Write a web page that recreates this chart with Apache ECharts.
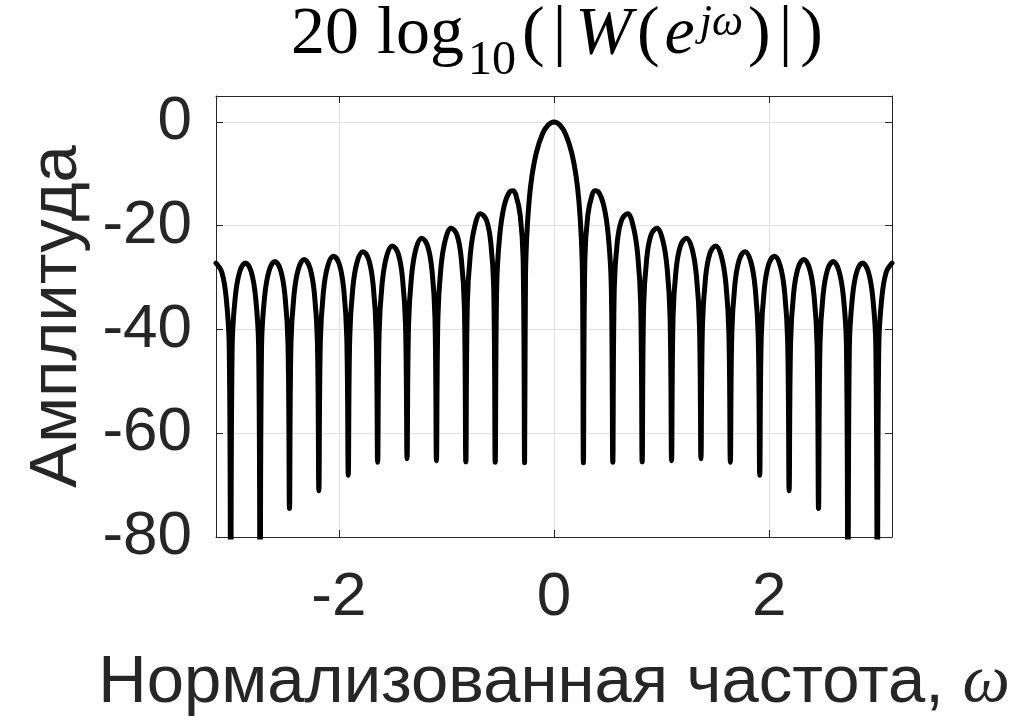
<!DOCTYPE html>
<html>
<head>
<meta charset="utf-8">
<script src="https://cdn.jsdelivr.net/npm/echarts@6/dist/echarts.min.js"></script>
<style>
html,body{margin:0;padding:0;background:#fff;}
#chart{width:1027px;height:724px;}
</style>
</head>
<body>
<div id="chart"></div>
<script>
// Frequency samples (rad/sample), grouped per lobe
const omega = [
  -3.1416, -3.0870, -3.0460, -3.0187, -3.0050,
  -2.9913, -2.9640, -2.9230, -2.8684, -2.8138, -2.7728, -2.7455, -2.7318,
  -2.7181, -2.6908, -2.6498, -2.5952, -2.5406, -2.4996, -2.4723, -2.4586,
  -2.4450, -2.4177, -2.3767, -2.3221, -2.2675, -2.2265, -2.1992, -2.1855,
  -2.1718, -2.1445, -2.1035, -2.0489, -1.9943, -1.9533, -1.9260, -1.9123,
  -1.8986, -1.8713, -1.8303, -1.7757, -1.7211, -1.6801, -1.6528, -1.6391,
  -1.6254, -1.5981, -1.5571, -1.5025, -1.4479, -1.4069, -1.3796, -1.3659,
  -1.3522, -1.3249, -1.2839, -1.2293, -1.1747, -1.1337, -1.1064, -1.0927,
  -1.0790, -1.0517, -1.0107, -0.9561, -0.9015, -0.8605, -0.8332, -0.8195,
  -0.8059, -0.7786, -0.7376, -0.6830, -0.6284, -0.5874, -0.5601, -0.5464,
  -0.5327, -0.5054, -0.4644, -0.4098, -0.3825, -0.3552, -0.3142, -0.2869, -0.2732,
  -0.2650, -0.2541, -0.2322, -0.2049, -0.1639, -0.1093, -0.0546, 0,
   0.0546, 0.1093, 0.1639, 0.2049, 0.2322, 0.2541, 0.2650, 0.2732,
   0.2869, 0.3142, 0.3552, 0.3825, 0.4098, 0.4644, 0.5054, 0.5327, 0.5464,
   0.5601, 0.5874, 0.6284, 0.6830, 0.7376, 0.7786, 0.8059, 0.8195,
   0.8332, 0.8605, 0.9015, 0.9561, 1.0107, 1.0517, 1.0790, 1.0927,
   1.1064, 1.1337, 1.1747, 1.2293, 1.2839, 1.3249, 1.3522, 1.3659,
   1.3796, 1.4069, 1.4479, 1.5025, 1.5571, 1.5981, 1.6254, 1.6391,
   1.6528, 1.6801, 1.7211, 1.7757, 1.8303, 1.8713, 1.8986, 1.9123,
   1.9260, 1.9533, 1.9943, 2.0489, 2.1035, 2.1445, 2.1718, 2.1855,
   2.1992, 2.2265, 2.2675, 2.3221, 2.3767, 2.4177, 2.4450, 2.4586,
   2.4723, 2.4996, 2.5406, 2.5952, 2.6498, 2.6908, 2.7181, 2.7318,
   2.7455, 2.7728, 2.8138, 2.8684, 2.9230, 2.9640, 2.9913, 3.0050,
   3.0187, 3.0460, 3.0870, 3.1416
];
// Amplitude in dB at those samples
const ampDb = [
  -27.2, -29.0, -34.1, -43.3, -95,
  -43.3, -34.1, -29.0, -27.2, -28.9, -34.0, -43.2, -95,
  -43.2, -33.9, -28.8, -26.9, -28.6, -33.7, -42.8, -74.5,
  -42.8, -33.6, -28.4, -26.5, -28.2, -33.2, -42.3, -71.1,
  -42.3, -33.0, -27.8, -25.9, -27.5, -32.5, -41.6, -68.1,
  -41.6, -32.3, -27.0, -25.0, -26.6, -31.6, -40.7, -65.6,
  -40.6, -31.3, -26.0, -23.9, -25.4, -30.4, -39.4, -64.9,
  -39.3, -29.9, -24.5, -22.4, -23.9, -28.7, -37.7, -65.3,
  -37.7, -28.2, -22.8, -20.5, -21.8, -26.6, -35.5, -65.5,
  -35.2, -25.7, -20.2, -17.7, -18.9, -23.3, -32.1, -65.6,
  -31.8, -22.1, -16.3, -13.4, -13.25, -14.0, -18.0, -26.4, -65.7,
  -30.2, -22.5, -15.4, -10.4, -5.9, -2.4, -0.6, 0,
  -0.6, -2.4, -5.9, -10.4, -15.4, -22.5, -30.2, -65.7,
  -26.4, -18.0, -14.0, -13.25, -13.4, -16.3, -22.1, -31.8, -65.6,
  -32.1, -23.3, -18.9, -17.7, -20.2, -25.7, -35.2, -65.5,
  -35.5, -26.6, -21.8, -20.5, -22.8, -28.2, -37.7, -65.3,
  -37.7, -28.7, -23.9, -22.4, -24.5, -29.9, -39.3, -64.9,
  -39.4, -30.4, -25.4, -23.9, -26.0, -31.3, -40.6, -65.6,
  -40.7, -31.6, -26.6, -25.0, -27.0, -32.3, -41.6, -68.1,
  -41.6, -32.5, -27.5, -25.9, -27.8, -33.0, -42.3, -71.1,
  -42.3, -33.2, -28.2, -26.5, -28.4, -33.6, -42.8, -74.5,
  -42.8, -33.7, -28.6, -26.9, -28.8, -33.9, -43.2, -95,
  -43.2, -34.0, -28.9, -27.2, -29.0, -34.1, -43.3, -95,
  -43.3, -34.1, -29.0, -27.2
];
const xTicks = [-2, 0, 2];
const yTicks = [-80, -60, -40, -20, 0];
const xMin = -Math.PI, xMax = Math.PI;
const yMin = -80, yMax = 5;

const SANS = "'Liberation Sans', Arial, Helvetica, sans-serif";
const SERIF = "'Liberation Serif', 'Times New Roman', serif";
const AX = '#262626';
const TICKFS = 62;
const NAMEFS = 67;

const chart = echarts.init(document.getElementById('chart'), null, {renderer: 'canvas'});
const points = omega.map((w, i) => [w, ampDb[i]]);

const baseAxis = {
  axisLine: {show: true, onZero: false, lineStyle: {color: AX, width: 1}},
  axisTick: {show: true, inside: true, length: 7, lineStyle: {color: AX, width: 1}},
};

const tBase = {fontFamily: SERIF, fontWeight: 'normal', color: '#000'};
chart.setOption({
  animation: false,
  backgroundColor: '#fff',
  title: {
    text: '{a|20}{n|log}{s|10}{n|(}{b||}{i|W}{n|(}{i|e}{p|jω}{n|)}{b||}{n|)}',
    left: 553, top: -5, textAlign: 'center',
    textStyle: {
      fontWeight: 'normal',
      rich: {
        a: Object.assign({}, tBase, {fontSize: 68, lineHeight: 70, padding: [0, 16, 0, 0]}),
        n: Object.assign({}, tBase, {fontSize: 68, lineHeight: 70, padding: [0, 2, 0, 2]}),
        b: Object.assign({}, tBase, {fontSize: 68, lineHeight: 70, padding: [0, 6, 0, 6]}),
        i: Object.assign({}, tBase, {fontSize: 68, fontStyle: 'italic', lineHeight: 70, padding: [0, 3, 0, 3]}),
        s: Object.assign({}, tBase, {fontSize: 48, lineHeight: 10, padding: [52, 4, 0, 2]}),
        p: Object.assign({}, tBase, {fontSize: 44, fontStyle: 'italic', lineHeight: 10, padding: [0, 3, 24, 2]})
      }
    }
  },
  grid: {left: 216, right: 135, top: 96, bottom: 187, containLabel: false, show: false},
  xAxis: [
    Object.assign({}, baseAxis, {
      type: 'value', position: 'bottom', min: xMin, max: xMax,
      axisTick: Object.assign({}, baseAxis.axisTick, {customValues: xTicks}),
      axisLabel: {customValues: xTicks, margin: 30, fontSize: TICKFS, fontFamily: SANS, color: AX},
      splitLine: {show: true, lineStyle: {color: '#e0e0e0', width: 1}},
      name: 'Нормализованная частота, {w|ω}', nameLocation: 'middle', nameGap: 113,
      nameTextStyle: {fontSize: NAMEFS, fontFamily: SANS, color: AX,
        rich: {w: {fontSize: NAMEFS, fontFamily: SERIF, fontStyle: 'italic', color: AX}}}
    }),
    Object.assign({}, baseAxis, {
      type: 'value', position: 'top', min: xMin, max: xMax,
      axisTick: Object.assign({}, baseAxis.axisTick, {customValues: xTicks}),
      axisLabel: {show: false}, splitLine: {show: false}
    })
  ],
  yAxis: [
    Object.assign({}, baseAxis, {
      type: 'value', position: 'left', min: yMin, max: yMax,
      axisTick: Object.assign({}, baseAxis.axisTick, {customValues: yTicks}),
      axisLabel: {customValues: yTicks, margin: 24, fontSize: TICKFS, fontFamily: SANS, color: AX},
      splitLine: {show: true, lineStyle: {color: '#e0e0e0', width: 1}},
      name: 'Амплитуда', nameLocation: 'middle', nameGap: 124, nameRotate: 90,
      nameTextStyle: {fontSize: NAMEFS, fontFamily: SANS, color: AX}
    }),
    Object.assign({}, baseAxis, {
      type: 'value', position: 'right', min: yMin, max: yMax,
      axisTick: Object.assign({}, baseAxis.axisTick, {customValues: yTicks}),
      axisLabel: {show: false}, splitLine: {show: false}
    })
  ],
  series: [{
    type: 'line',
    xAxisIndex: 0, yAxisIndex: 0,
    data: points,
    showSymbol: false,
    smooth: 0.4,
    clip: true,
    lineStyle: {color: '#000', width: 5, join: 'round', cap: 'round'}
  }]
});
</script>
</body>
</html>
